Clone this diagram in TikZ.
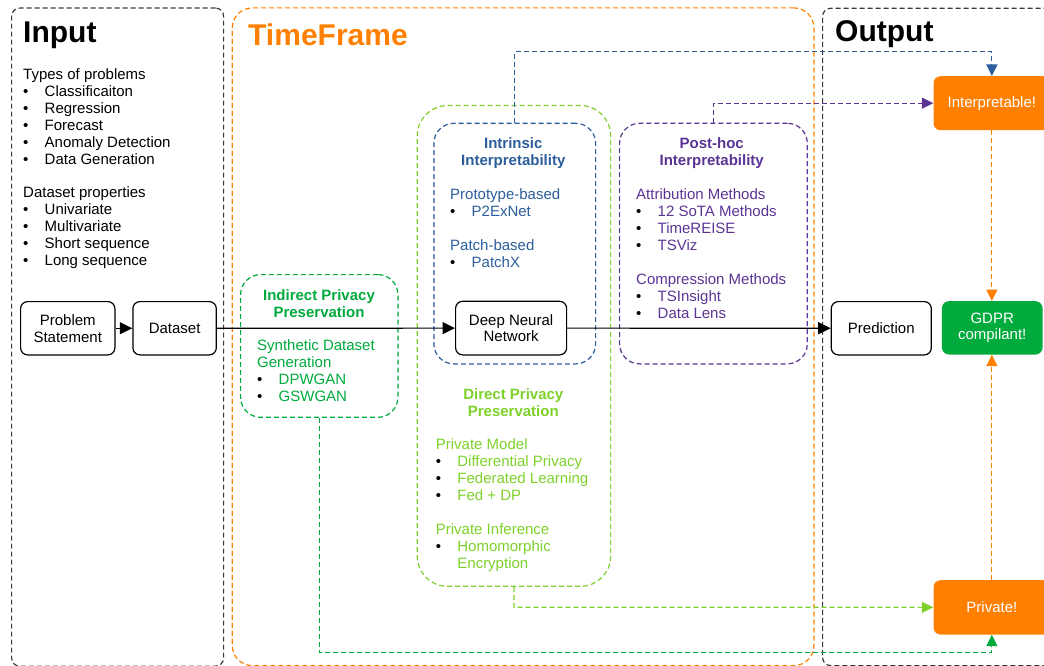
\documentclass[tikz,border=0pt]{standalone}
\usepackage{fontspec}
\setmainfont{Liberation Sans}
\usetikzlibrary{arrows.meta}

\definecolor{boxgray}{HTML}{3A3A3A}
\definecolor{tforange}{HTML}{FF8000}
\definecolor{pgreen}{HTML}{00AA3C}
\definecolor{lgreen}{HTML}{7ED12A}
\definecolor{iblue}{HTML}{2B5E9B}
\definecolor{ppurple}{HTML}{5B3493}

% bullet item with a fixed indent; the bullet itself stays black
\newcommand\bl[1]{\makebox[21.5pt][l]{\color{black}\textbullet}#1}
\newcommand\bodyfont{\fontsize{15}{16.9}\selectfont}

\begin{document}
\begin{tikzpicture}[x=1pt,y=-1pt,
  dsh/.style={dash pattern=on 5pt off 3pt, line width=1.2pt},
  frame/.style={dsh, draw, rectangle, inner sep=0pt, anchor=north west},
  flow/.style={draw=black, line width=1.2pt, rectangle, rounded corners=7pt,
    fill=white, inner sep=0pt, align=center, font=\bodyfont, anchor=north west},
  badge/.style={rectangle, rounded corners=7pt, inner sep=0pt, align=center,
    font=\bodyfont, text=white, anchor=north west},
  txt/.style={inner sep=0pt, align=left, anchor=north west, font=\bodyfont},
  ttl/.style={inner sep=0pt, align=center, anchor=north, font=\bodyfont\bfseries},
  head/.style={inner sep=0pt, anchor=base west, font=\bfseries\fontsize{30}{36}\selectfont},
  solidarrow/.style={line width=1.2pt, -{Triangle[length=12.5pt,width=12pt]}},
  dasharrow/.style={dsh, -{Triangle[length=11.5pt,width=11pt]}},
]
\useasboundingbox (0,0) rectangle (1044,666);
\clip (0,0) rectangle (1044,666);

% ---- outer frames
\node[frame, draw=boxgray, rounded corners=8pt, minimum width=212pt, minimum height=658pt] (input) at (11,7.5) {};
\node[frame, draw=tforange, rounded corners=20pt, minimum width=581.6pt, minimum height=657.7pt] (tframe) at (231.7,7.3) {};
\node[frame, draw=boxgray, rounded corners=8pt, minimum width=250pt, minimum height=657.3pt] (output) at (822,7.7) {};

\node[head] (inhead) at (23,42.3) {Input};
\node[head, text=tforange] (tfhead) at (248,46) {TimeFrame};
\node[head] (outhead) at (835,42) {Output};

% ---- input description
\node[txt] (inlist) at (23,68.5) {Types of problems\\
  \bl{Classificaiton}\\ \bl{Regression}\\ \bl{Forecast}\\ \bl{Anomaly Detection}\\ \bl{Data Generation}\\[16.9pt]
  Dataset properties\\
  \bl{Univariate}\\ \bl{Multivariate}\\ \bl{Short sequence}\\ \bl{Long sequence}};

% ---- method groups
\node[frame, draw=lgreen, rounded corners=30pt, minimum width=193.3pt, minimum height=480.7pt] (direct) at (416.7,105) {};
\node[frame, draw=iblue, rounded corners=20pt, minimum width=161.7pt, minimum height=240.6pt] (intr) at (433.3,122.7) {};
\node[frame, draw=ppurple, rounded corners=20pt, minimum width=187.7pt, minimum height=240.6pt] (posthoc) at (619,122.7) {};
\node[frame, draw=pgreen, rounded corners=20pt, minimum width=157.3pt, minimum height=142.7pt] (indirect) at (240,274) {};

\node[ttl, text=iblue] (intrttl) at (513.3,137.8) {Intrinsic\\Interpretability};
\node[txt, text=iblue] (intrbody) at (450,188.6) {Prototype-based\\ \bl{P2ExNet}\\[16.9pt] Patch-based\\ \bl{PatchX}};

\node[ttl, text=ppurple] (phttl) at (711.7,137.8) {Post-hoc\\Interpretability};
\node[txt, text=ppurple] (phbody) at (636,188.8) {Attribution Methods\\ \bl{12 SoTA Methods}\\ \bl{TimeREISE}\\ \bl{TSViz}\\[16.9pt]
  Compression Methods\\ \bl{TSInsight}\\ \bl{Data Lens}};

\node[ttl, text=pgreen] (indttl) at (319,289.5) {Indirect Privacy\\Preservation};
\node[txt, text=pgreen] (indbody) at (257,339.8) {Synthetic Dataset\\Generation\\ \bl{DPWGAN}\\ \bl{GSWGAN}};

\node[ttl, text=lgreen] (dirttl) at (513.3,388.8) {Direct Privacy\\Preservation};
\node[txt, text=lgreen] (dirbody) at (435.7,438.8) {Private Model\\ \bl{Differential Privacy}\\ \bl{Federated Learning}\\ \bl{Fed + DP}\\[16.9pt]
  Private Inference\\ \bl{Homomorphic}\\ \hspace*{21.5pt}Encryption};

% ---- pipeline nodes
\node[flow, minimum width=94.3pt, minimum height=53.3pt] (ps) at (20,301) {Problem\\Statement};
\node[flow, minimum width=83.4pt, minimum height=53.3pt] (data) at (132.3,301) {Dataset};
\node[flow, minimum width=111pt, minimum height=53.6pt] (dnn) at (455,300.7) {Deep Neural\\Network};
\node[flow, minimum width=100pt, minimum height=53.3pt] (pred) at (830.7,301) {Prediction};
\node[badge, fill=pgreen, minimum width=100.6pt, minimum height=53.3pt] (gdpr) at (941.7,301) {GDPR\\compilant!};
\node[badge, fill=tforange, minimum width=116.7pt, minimum height=54pt] (interp) at (933.3,76) {Interpretable!};
\node[badge, fill=tforange, minimum width=116.7pt, minimum height=54.3pt] (priv) at (933.3,580) {Private!};

% ---- bend points of the dashed links
\coordinate (blueY) at (0,51.7);
\coordinate (purpY) at (0,103.2);
\coordinate (lgY) at (0,607.2);
\coordinate (pgY) at (0,652.3);

% ---- connectors
\draw[solidarrow] (ps) -- (data);
\draw[solidarrow] (data) -- (dnn);
\draw[solidarrow] (dnn) -- (pred);

\draw[dasharrow, draw=iblue] (intr.north) -- (intr.north |- blueY) -| (interp.north);
\draw[dasharrow, draw=ppurple] (posthoc.north) -- (posthoc.north |- purpY) -- (interp.west);
\draw[dasharrow, draw=tforange] (interp.south) -- (gdpr.north -| interp.south);
\draw[dasharrow, draw=tforange] (priv.north) -- (gdpr.south -| priv.north);
\draw[dasharrow, draw=lgreen] (direct.south) -- (direct.south |- lgY) -- (priv.west);
\draw[dasharrow, draw=pgreen] (indirect.south) -- (indirect.south |- pgY) -| (priv.south);
\end{tikzpicture}
\end{document}
